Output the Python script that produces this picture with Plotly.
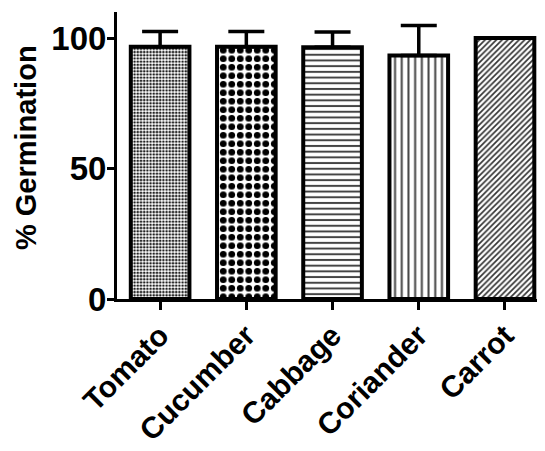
import plotly.graph_objects as go

categories = ["Tomato", "Cucumber", "Cabbage", "Coriander", "Carrot"]
germination = [96.7, 96.7, 96.5, 93.3, 100.0]
sd_upper = [5.8, 5.8, 5.8, 11.5, 0.0]
y_ticks = [0, 50, 100]
y_title = "% Germination"

patterns = [".", ".", "-", "|", "/"]
pattern_sizes = [3.2, 8.5, 5.7, 6.7, 4.0]
pattern_solidity = [0.5, 0.5, 0.35, 0.3, 0.42]
pattern_fg = ["#222222", "#000000", "#444444", "#444444", "#333333"]

FONT = "Liberation Sans, Arial, Helvetica, sans-serif"

fig = go.Figure()
fig.add_trace(go.Bar(
    x=categories,
    y=germination,
    width=0.68,
    marker=dict(
        color="white",
        line=dict(color="black", width=4),
        pattern=dict(shape=patterns, size=pattern_sizes, solidity=pattern_solidity,
                     fgcolor=pattern_fg, bgcolor="white", fillmode="replace", fgopacity=1),
    ),
    error_y=dict(type="data", symmetric=False, array=sd_upper,
                 arrayminus=[0] * len(sd_upper), color="black", thickness=3.5, width=18),
    showlegend=False,
))

fig.update_layout(
    width=537, height=443,
    margin=dict(l=109, r=0, t=4, b=152),
    paper_bgcolor="white", plot_bgcolor="white",
    font=dict(family=FONT, color="black", size=28, weight="bold"),
    annotations=[dict(
        text=y_title, textangle=-90, xref="paper", yref="paper",
        x=0, y=0.526, xanchor="center", yanchor="middle", xshift=-91,
        showarrow=False, font=dict(size=29, family=FONT, weight="bold", color="black"),
    )],
)
fig.update_xaxes(
    range=[-0.5, 4.464], showline=True, linewidth=3, linecolor="black",
    ticks="outside", ticklen=8, tickwidth=2.5, tickcolor="black",
    tickangle=-45, tickfont=dict(size=30, family=FONT, weight="bold"), ticklabelstandoff=-4,
    showgrid=False, zeroline=False, automargin=False,
)
fig.update_yaxes(
    range=[0, 110], tickvals=y_ticks, showline=True, linewidth=3, linecolor="black",
    ticks="outside", ticklen=7, tickwidth=2.5, tickcolor="black",
    tickfont=dict(size=33, family=FONT, weight="bold"), ticklabelstandoff=-6,
    showgrid=False, zeroline=False, automargin=False,
)

fig.write_html("out.html")
